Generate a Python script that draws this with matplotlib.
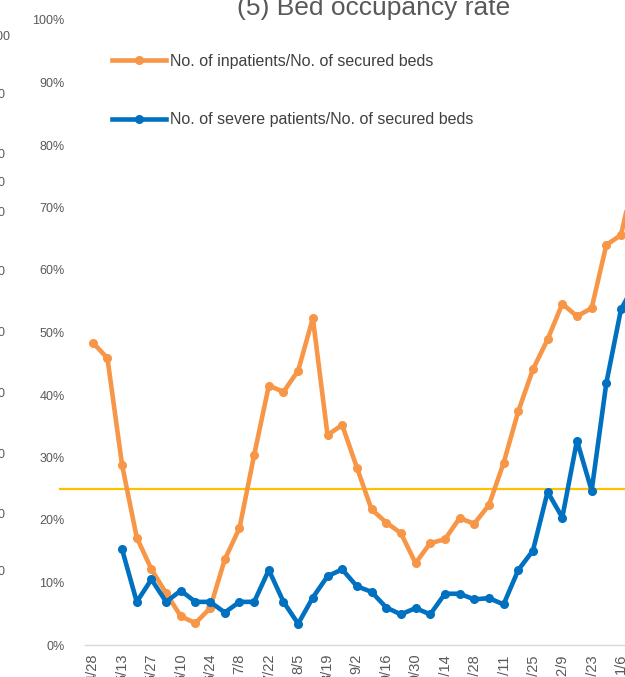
import matplotlib.pyplot as plt
import numpy as np

plt.rcParams['font.family'] = ['Liberation Sans', 'DejaVu Sans']

# weekly dates (only every second one is labelled)
dates = ['4/28', '5/6', '5/13', '5/20', '5/27', '6/3', '6/10', '6/17', '6/24', '7/1',
         '7/8', '7/15', '7/22', '7/29', '8/5', '8/12', '8/19', '8/26', '9/2', '9/9',
         '9/16', '9/23', '9/30', '10/7', '10/14', '10/21', '10/28', '11/4', '11/11', '11/18',
         '11/25', '12/2', '12/9', '12/16', '12/23', '12/30', '1/6', '1/13']

# No. of inpatients / No. of secured beds (%)
inpatients = [48.4, 45.9, 28.8, 17.2, 12.1, 8.3, 4.6, 3.5, 5.9, 13.7,
              18.7, 30.4, 41.5, 40.5, 43.9, 52.3, 33.6, 35.2, 28.4, 21.7,
              19.6, 17.9, 13.1, 16.3, 16.9, 20.3, 19.4, 22.4, 29.1, 37.4,
              44.1, 48.9, 54.6, 52.6, 53.9, 64.0, 65.6, 76.0]

# No. of severe patients / No. of secured beds (%)
severe = [np.nan, np.nan, 15.3, 6.9, 10.5, 6.9, 8.7, 6.9, 6.9, 5.2,
          6.9, 6.9, 12.0, 6.9, 3.4, 7.6, 11.0, 12.1, 9.4, 8.5,
          6.0, 4.9, 5.9, 4.9, 8.2, 8.2, 7.3, 7.5, 6.5, 12.0,
          15.1, 24.5, 20.4, 32.7, 24.7, 41.9, 53.7, 58.0]

threshold = 25.0

W, H = 625, 677
fig = plt.figure(figsize=(W / 100, H / 100), dpi=100)

# axes placed in pixels; the right side runs past the figure edge (cropped chart)
left_px, right_px, bottom_px, top_px = 85.4, 643.0, 645.0, 20.0
ax = fig.add_axes([left_px / W, (H - bottom_px) / H,
                   (right_px - left_px) / W, (bottom_px - top_px) / H])

x = np.arange(len(dates))
orange = '#F79646'
blue = '#0070C0'

ax.plot([-2.23, len(dates) + 2], [threshold, threshold], color='#FFC000', lw=1.6,
        clip_on=False, zorder=1)
ax.plot(x, inpatients, color=orange, lw=3.3, marker='o', ms=5.5,
        label='No. of inpatients/No. of secured beds', zorder=3, clip_on=False)
ax.plot(x, severe, color=blue, lw=3.3, marker='o', ms=5.5,
        label='No. of severe patients/No. of secured beds', zorder=3, clip_on=False)

ax.set_xlim(-0.5, len(dates) - 0.5)
ax.set_ylim(0, 100)
ax.set_yticks(np.arange(0, 101, 10))
ax.set_yticklabels([f'{v}%' for v in range(0, 101, 10)])
ax.set_xticks(x[::2])
ax.set_xticklabels(dates[::2], rotation=90)
ax.tick_params(length=0, colors='#595959', labelsize=9)
ax.tick_params(axis='y', pad=15)
ax.tick_params(axis='x', pad=6, labelsize=10.5)
for s in ['top', 'right', 'left']:
    ax.spines[s].set_visible(False)
ax.spines['bottom'].set_color('#D9D9D9')
ax.spines['bottom'].set_linewidth(1.0)

leg = ax.legend(loc='upper left', bbox_to_anchor=(112 / W, 1 - 54 / H),
                bbox_transform=fig.transFigure, frameon=False, fontsize=11.5,
                handlelength=3.4, handletextpad=0.25, labelspacing=2.7,
                borderpad=0, borderaxespad=0, labelcolor='#404040')

fig.text(373.5 / W, 1 - 15 / H, '(5) Bed occupancy rate', ha='center', va='baseline',
         fontsize=19, color='#595959')

# cut-off labels of the neighbouring chart at the left edge
fig.text(10.5 / W, 1 - 37 / H, '1000', ha='right', va='center', fontsize=9, color='#595959')
for yp in [95, 155, 183, 213, 272, 333, 394, 455, 515, 572]:
    fig.text(4.5 / W, 1 - yp / H, '0', ha='right', va='center', fontsize=9, color='#595959')

fig.savefig('out.png', dpi=100)
